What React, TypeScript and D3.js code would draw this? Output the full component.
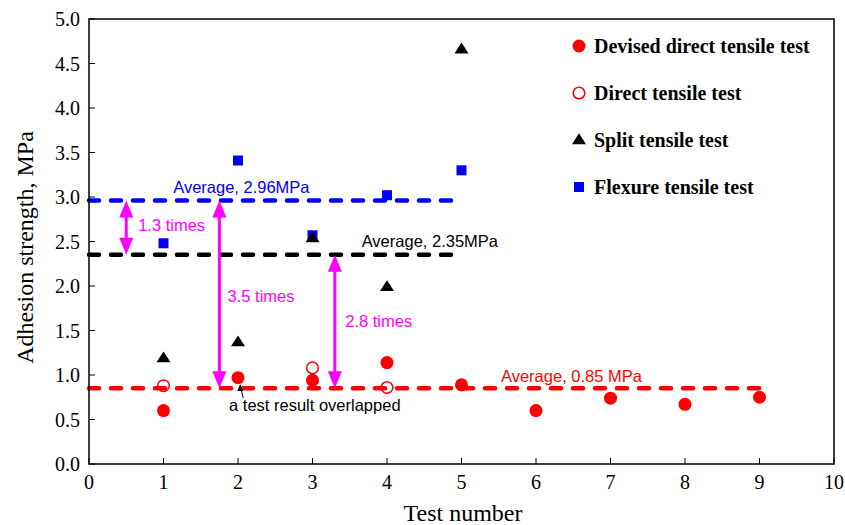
import React from "react";
import * as d3 from "d3";

const devisedX = [1, 2, 3, 4, 5, 6, 7, 8, 9];
const devisedY = [0.6, 0.97, 0.94, 1.14, 0.89, 0.6, 0.74, 0.67, 0.75];
const directX = [1, 3, 4];
const directY = [0.88, 1.08, 0.86];
const splitX = [1, 2, 3, 4, 5];
const splitY = [1.19, 1.37, 2.54, 1.99, 4.66];
const flexX = [1, 2, 3, 4, 5];
const flexY = [2.48, 3.41, 2.57, 3.02, 3.3];
const averages = [
  { value: 2.96, x0: 0, x1: 5, color: "#0000ff", label: "Average, 2.96MPa", lx: 1.13, ly: 3.05 },
  { value: 2.35, x0: 0, x1: 5, color: "#000000", label: "Average, 2.35MPa", lx: 3.66, ly: 2.44 },
  { value: 0.85, x0: 0, x1: 9, color: "#ff0000", label: "Average, 0.85 MPa", lx: 5.53, ly: 0.92 },
];
const arrows = [
  { x: 0.5, y0: 2.96, y1: 2.35, label: "1.3 times", lx: 0.66, ly: 2.62 },
  { x: 1.75, y0: 2.96, y1: 0.85, label: "3.5 times", lx: 1.86, ly: 1.82 },
  { x: 3.3, y0: 2.35, y1: 0.85, label: "2.8 times", lx: 3.44, ly: 1.54 },
];
const xTicks = [0, 1, 2, 3, 4, 5, 6, 7, 8, 9, 10];
const yTicks = [0, 0.5, 1, 1.5, 2, 2.5, 3, 3.5, 4, 4.5, 5];
const legendItems = [
  { kind: "filled", label: "Devised direct tensile test" },
  { kind: "open", label: "Direct tensile test" },
  { kind: "tri", label: "Split tensile test" },
  { kind: "sq", label: "Flexure tensile test" },
];

const W = 845, H = 525;
const L = 89, R = 834, T = 19, B = 464;

export default function App() {
  const x = d3.scaleLinear().domain([0, 10]).range([L, R]);
  const y = d3.scaleLinear().domain([0, 5]).range([B, T]);
  const serif = "'Times New Roman', 'Liberation Serif', serif";
  const sans = "Arial, 'Liberation Sans', sans-serif";
  const magenta = "#ff00ff";
  const tri = (cx: number, cy: number, s: number) =>
    `M${cx},${cy - s * 0.95} L${cx + s},${cy + s * 0.6} L${cx - s},${cy + s * 0.6} Z`;

  const marker = (kind: string, cx: number, cy: number, key: string) => {
    if (kind === "filled") return <circle key={key} cx={cx} cy={cy} r={6.5} fill="#ff0000" />;
    if (kind === "open") return <circle key={key} cx={cx} cy={cy} r={5.8} fill="none" stroke="#ff0000" strokeWidth={1.5} />;
    if (kind === "tri") return <path key={key} d={tri(cx, cy, 7)} fill="#000" />;
    return <rect key={key} x={cx - 5} y={cy - 5} width={10} height={10} fill="#0000ff" />;
  };

  const arrowHead = (xx: number, yy: number, dir: number, key: string) => (
    <path key={key} d={`M${xx},${yy} L${xx - 7},${yy + dir * 17} L${xx + 7},${yy + dir * 17} Z`} fill={magenta} />
  );

  return (
    <svg width={W} height={H} style={{ display: "block", position: "absolute", left: 0, top: 0, background: "#fff" }}>
      <rect x={0} y={0} width={W} height={H} fill="#fff" />
      {averages.map((a, i) => (
        <line key={"av" + i} x1={x(a.x0)} x2={x(a.x1)} y1={y(a.value)} y2={y(a.value)}
          stroke={a.color} strokeWidth={4.5} strokeDasharray="10 12" strokeLinecap="round" />
      ))}
      {averages.map((a, i) => (
        <text key={"avl" + i} x={x(a.lx)} y={y(a.ly)} fill={a.color} fontFamily={sans} fontSize={16.5}>{a.label}</text>
      ))}
      {arrows.map((a, i) => (
        <g key={"ar" + i}>
          <line x1={x(a.x)} x2={x(a.x)} y1={y(a.y0) + 14} y2={y(a.y1) - 14} stroke={magenta} strokeWidth={3} />
          {arrowHead(x(a.x), y(a.y0), 1, "h1")}
          {arrowHead(x(a.x), y(a.y1), -1, "h2")}
          <text x={x(a.lx)} y={y(a.ly)} fill={magenta} fontFamily={sans} fontSize={16.5}>{a.label}</text>
        </g>
      ))}
      {flexX.map((v, i) => marker("sq", x(v), y(flexY[i]), "f" + i))}
      {splitX.map((v, i) => marker("tri", x(v), y(splitY[i]), "s" + i))}
      {devisedX.map((v, i) => marker("filled", x(v), y(devisedY[i]), "d" + i))}
      {directX.map((v, i) => marker("open", x(v), y(directY[i]), "o" + i))}
      <line x1={x(2.07)} y1={y(0.74)} x2={x(2.03)} y2={y(0.88)} stroke="#000" strokeWidth={1} />
      <path d={`M${x(2.03)},${y(0.9)} l-3,7 l6,0 Z`} fill="#000" />
      <text x={x(1.88)} y={y(0.59)} fontFamily={sans} fontSize={16.5} fill="#000">a test result overlapped</text>
      <rect x={L} y={T} width={R - L} height={B - T} fill="none" stroke="#000" strokeWidth={1.5} />
      {xTicks.map((t) => (
        <g key={"xt" + t}>
          <line x1={x(t)} x2={x(t)} y1={B} y2={B - 6} stroke="#000" strokeWidth={1} />
          <text x={x(t)} y={B + 25} textAnchor="middle" fontFamily={serif} fontSize={20}>{t}</text>
        </g>
      ))}
      {yTicks.map((t) => (
        <g key={"yt" + t}>
          <line x1={L} x2={L + 6} y1={y(t)} y2={y(t)} stroke="#000" strokeWidth={1} />
          <text x={L - 9} y={y(t) + 7} textAnchor="end" fontFamily={serif} fontSize={20}>{t.toFixed(1)}</text>
        </g>
      ))}
      <text x={463} y={521} textAnchor="middle" fontFamily={serif} fontSize={24}>Test number</text>
      <text transform={`translate(33,${(T + B) / 2 + 6}) rotate(-90)`} textAnchor="middle" fontFamily={serif} fontSize={24}>Adhesion strength, MPa</text>
      {legendItems.map((it, i) => (
        <g key={"lg" + i}>
          {marker(it.kind, 579, 46 + i * 47, "m")}
          <text x={594} y={53 + i * 47} fontFamily={serif} fontSize={20} fontWeight={600}>{it.label}</text>
        </g>
      ))}
    </svg>
  );
}
